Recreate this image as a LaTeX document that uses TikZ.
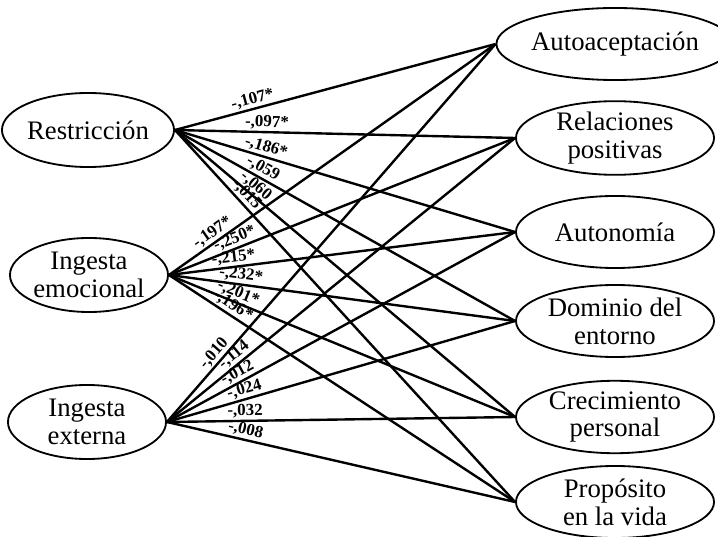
\documentclass[tikz,border=0pt]{standalone}
\usepackage{fontspec}
\setmainfont{Liberation Serif}
\usetikzlibrary{shapes.geometric}

\begin{document}
\begin{tikzpicture}
      [x=0.025cm, y=-0.025cm,
      factor/.style={draw, ellipse, line width=1.3pt, inner sep=0pt, align=center,
        font=\fontsize{19}{19.8}\selectfont},
      left factor/.style={factor, minimum width=3.95cm, minimum height=1.85cm},
      right factor/.style={factor, minimum width=4.95cm, minimum height=1.8cm},
      path line/.style={line width=1.7pt},
      coef/.style={sloped, above, inner sep=1pt, font=\fontsize{12}{13}\bfseries}
      ]
      \useasboundingbox (0,0) rectangle (718,537);

      % predictors
      \node[left factor] (restr) at (88,130) {Restricción};
      \node[left factor] (emoc) at (89,275) {Ingesta\\emocional};
      \node[left factor] (ext) at (87,422) {Ingesta\\externa};

      % well-being dimensions
      \node[right factor] (auto) at (615,44) {Autoaceptación};
      \node[right factor] (rel) at (615,138) {Relaciones\\positivas};
      \node[right factor] (auton) at (615,232) {Autonomía};
      \node[right factor] (dom) at (615,321) {Dominio del\\entorno};
      \node[right factor] (crec) at (615,417) {Crecimiento\\personal};
      \node[right factor] (prop) at (615,502) {Propósito\\en la vida};

      % Restriccion
      \draw[path line] (restr.east) -- node[coef, pos=.25] {-,107*} (auto.west);
      \draw[path line] (restr.east) -- node[coef, pos=.27] {-,097*} (rel.west);
      \draw[path line] (restr.east) -- node[coef, pos=.26] {-,186*} (auton.west);
      \draw[path line] (restr.east) -- node[coef, pos=.245] {-,059} (dom.west);
      \draw[path line] (restr.east) -- node[coef, pos=.22] {-,060} (crec.west);
      \draw[path line] (restr.east) -- node[coef, pos=.19] {-,015} (prop.west);

      % Ingesta emocional
      \draw[path line] (emoc.east) -- node[coef, pos=.15] {-,197*} (auto.west);
      \draw[path line] (emoc.east) -- node[coef, pos=.2] {-,250*} (rel.west);
      \draw[path line] (emoc.east) -- node[coef, pos=.19] {-,215*} (auton.west);
      \draw[path line] (emoc.east) -- node[coef, pos=.205] {-,232*} (dom.west);
      \draw[path line] (emoc.east) -- node[coef, pos=.19] {-,201*} (crec.west);
      \draw[path line] (emoc.east) -- node[coef, pos=.17] {-,196*} (prop.west);

      % Ingesta externa
      \draw[path line] (ext.east) -- node[coef, pos=.165] {-,010} (auto.west);
      \draw[path line] (ext.east) -- node[coef, pos=.21] {-,114} (rel.west);
      \draw[path line] (ext.east) -- node[coef, pos=.215] {-,012} (auton.west);
      \draw[path line] (ext.east) -- node[coef, pos=.23] {-,024} (dom.west);
      \draw[path line] (ext.east) -- node[coef, pos=.225] {-,032} (crec.west);
      \draw[path line] (ext.east) -- node[coef, pos=.22] {-,008} (prop.west);
\end{tikzpicture}
\end{document}
